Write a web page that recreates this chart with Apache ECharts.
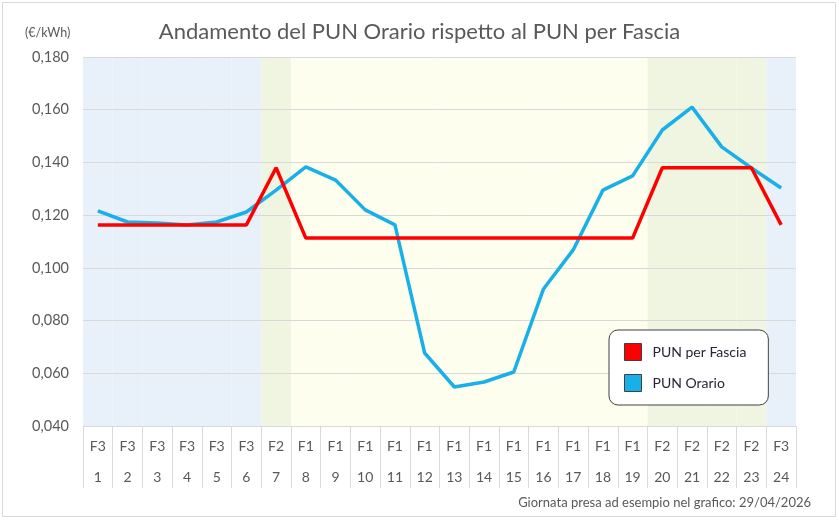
<!DOCTYPE html>
<html>
<head>
<meta charset="utf-8">
<script src="https://cdn.jsdelivr.net/npm/echarts@6/dist/echarts.min.js"></script>
<style>
* { margin: 0; padding: 0; }
#chart-container { width: 839px; height: 520px; }
</style>
</head>
<body>
<div id="chart-container"></div>
<script>
const hours = ['1', '2', '3', '4', '5', '6', '7', '8', '9', '10', '11', '12',
  '13', '14', '15', '16', '17', '18', '19', '20', '21', '22', '23', '24']
const fasce = ['F3', 'F3', 'F3', 'F3', 'F3', 'F3', 'F2', 'F1', 'F1', 'F1', 'F1', 'F1',
  'F1', 'F1', 'F1', 'F1', 'F1', 'F1', 'F1', 'F2', 'F2', 'F2', 'F2', 'F3']
const punOrario = [0.1216, 0.1174, 0.1170, 0.1163, 0.1174, 0.1212, 0.1295, 0.1383,
  0.1333, 0.1220, 0.1163, 0.0677, 0.0548, 0.0567, 0.0605, 0.0920, 0.1068, 0.1295,
  0.1349, 0.1523, 0.1610, 0.1459, 0.1379, 0.1303]
const punFascia = { F1: 0.1113, F2: 0.1380, F3: 0.1163 }
const bandColors = { F1: '#fefeee', F2: '#f0f5e2', F3: '#e8f0f9' }

const font = 'Lato, "Noto Sans", sans-serif'
const chart = echarts.init(document.getElementById('chart-container'))

const option = {
  animation: false,
  textStyle: { fontFamily: font },
  title: {
    text: 'Andamento del PUN Orario rispetto al PUN per Fascia',
    left: 'center',
    top: 16,
    textStyle: { fontSize: 22, fontWeight: 'normal', color: '#595959', fontFamily: font }
  },
  graphic: [
    {
      type: 'rect',
      shape: { x: 2.5, y: 2.5, width: 833, height: 514 },
      style: { fill: 'none', stroke: '#d9d9d9', lineWidth: 1 },
      silent: true
    },
    {
      type: 'text',
      left: 25,
      top: 26,
      style: { text: '(€/kWh)', fill: '#595959', font: '12.5px ' + font }
    },
    {
      type: 'text',
      right: 28,
      top: 496,
      style: { text: 'Giornata presa ad esempio nel grafico: 29/04/2026', fill: '#595959', font: '13px ' + font }
    }
  ],
  legend: {
    orient: 'vertical',
    left: 609,
    top: 330,
    padding: [13, 22, 13, 15],
    backgroundColor: '#fff',
    borderColor: '#404040',
    borderWidth: 1,
    borderRadius: 9,
    itemWidth: 17,
    itemHeight: 17,
    itemGap: 13,
    icon: 'rect',
    itemStyle: { borderColor: '#404040', borderWidth: 1 },
    textStyle: { fontSize: 14, color: '#262636', padding: [0, 0, 0, 6] },
    data: ['PUN per Fascia', 'PUN Orario']
  },
  grid: { left: 83, right: 43, top: 57, bottom: 94 },
  xAxis: {
    type: 'category',
    data: hours,
    boundaryGap: true,
    axisLine: { lineStyle: { color: '#d9d9d9' } },
    axisTick: { show: true, interval: 0, length: 62, lineStyle: { color: '#d9d9d9' } },
    axisLabel: {
      interval: 0,
      margin: 5,
      lineHeight: 31,
      fontSize: 14,
      color: '#595959',
      formatter: (v, i) => fasce[i] + '\n' + v
    }
  },
  yAxis: [
    {
      type: 'value',
      min: 0.04,
      max: 0.18,
      interval: 0.02,
      axisLine: { show: false },
      axisTick: { show: false },
      splitLine: { lineStyle: { color: '#d9d9d9' } },
      axisLabel: {
        fontSize: 14.5,
        color: '#595959',
        margin: 14,
        formatter: v => v.toFixed(3).replace('.', ',')
      }
    },
    { type: 'value', min: 0, max: 1, show: false }
  ],
  series: [
    {
      name: 'bands',
      type: 'bar',
      yAxisIndex: 1,
      silent: true,
      z: -1,
      barWidth: '100%',
      barCategoryGap: '0%',
      data: fasce.map(f => ({ value: 1, itemStyle: { color: bandColors[f] } }))
    },
    {
      name: 'PUN Orario',
      type: 'line',
      data: punOrario,
      symbol: 'none',
      color: '#19b0e8',
      lineStyle: { width: 3.5, color: '#19b0e8' }
    },
    {
      name: 'PUN per Fascia',
      type: 'line',
      data: fasce.map(f => punFascia[f]),
      symbol: 'none',
      color: '#ff0000',
      lineStyle: { width: 3.5, color: '#ff0000' }
    }
  ]
}

chart.setOption(option)
</script>
</body>
</html>
